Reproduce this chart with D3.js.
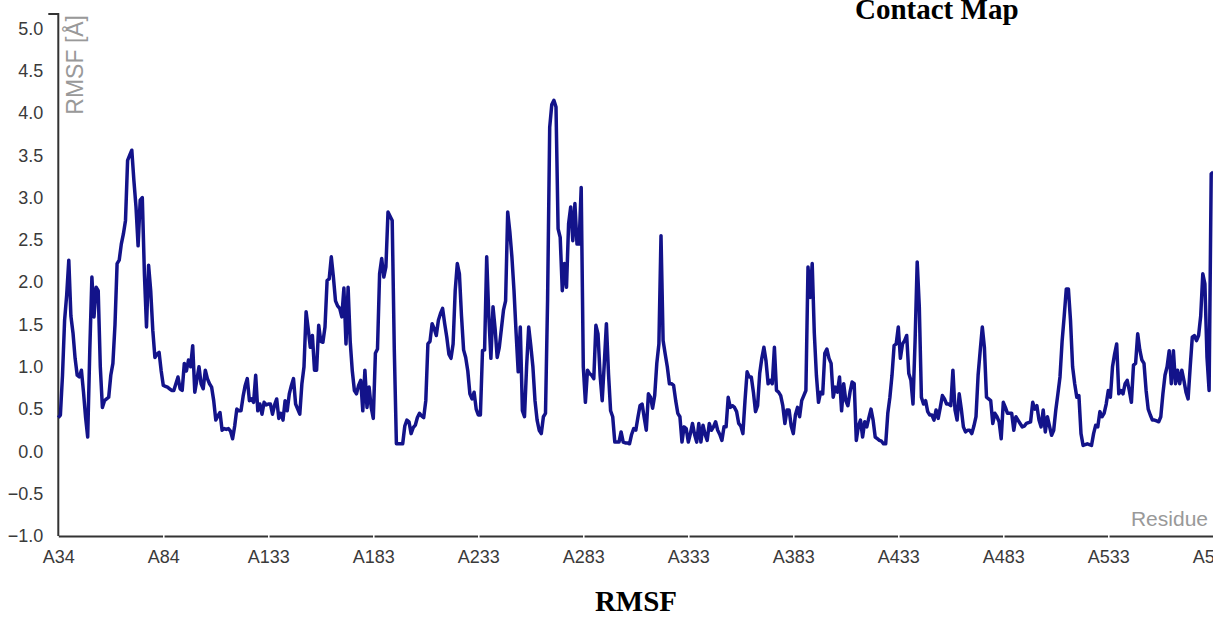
<!DOCTYPE html>
<html>
<head>
<meta charset="utf-8">
<script src="https://cdn.jsdelivr.net/npm/d3@7"></script>
<style>
  body { margin: 0; background: #fff; overflow: hidden; }
  svg { display: block; }
</style>
</head>
<body>
<div id="rmsf_chart"></div>
<script>
// RMSF per residue, one value per residue index (Å)
var rmsfValues = [
  0.40,0.43,0.90,1.55,1.85,2.26,1.60,1.40,1.10,0.90,
  0.88,0.96,0.70,0.40,0.17,1.20,2.06,1.59,1.94,1.90,
  1.00,0.52,0.60,0.62,0.64,0.90,1.04,1.50,2.22,2.26,
  2.45,2.57,2.73,3.44,3.50,3.56,3.20,2.89,2.43,2.97,
  3.00,2.10,1.47,2.20,1.90,1.43,1.11,1.15,1.17,0.95,
  0.78,0.77,0.76,0.74,0.72,0.72,0.80,0.88,0.74,0.72,
  1.04,0.95,1.08,1.00,1.25,0.70,0.85,1.00,0.80,0.74,
  0.96,0.86,0.80,0.76,0.60,0.37,0.42,0.46,0.25,0.27,
  0.26,0.27,0.24,0.15,0.30,0.50,0.48,0.48,0.65,0.78,
  0.86,0.60,0.62,0.58,0.90,0.48,0.56,0.44,0.58,0.55,
  0.56,0.56,0.44,0.55,0.62,0.39,0.45,0.37,0.60,0.48,
  0.68,0.78,0.86,0.56,0.50,0.44,0.80,1.00,1.65,1.45,
  1.23,1.37,0.96,0.96,1.49,1.30,1.29,1.47,2.02,2.04,
  2.30,2.06,1.78,1.72,1.69,1.59,1.93,1.27,1.94,1.30,
  0.95,0.72,0.68,0.78,0.84,0.48,0.96,0.52,0.76,0.52,
  0.39,1.16,1.21,2.10,2.28,2.06,2.18,2.83,2.78,2.73,
  1.20,0.09,0.09,0.09,0.09,0.30,0.37,0.35,0.21,0.28,
  0.31,0.40,0.45,0.42,0.40,0.60,1.27,1.30,1.51,1.45,
  1.37,1.55,1.63,1.69,1.51,1.35,1.15,1.10,1.27,1.90,
  2.22,2.10,1.60,1.20,1.11,0.95,0.68,0.62,0.70,0.50,
  0.43,0.43,1.19,1.20,2.30,1.60,1.10,1.71,1.45,1.11,
  1.23,1.45,1.67,1.78,2.83,2.60,2.30,1.90,1.40,0.94,
  1.47,0.48,0.41,1.00,1.47,1.25,1.00,0.60,0.37,0.25,
  0.21,0.41,0.45,1.80,3.83,4.10,4.15,4.07,2.63,2.53,
  1.90,2.22,1.94,2.69,2.89,2.49,2.93,2.45,2.45,3.12,
  1.00,0.58,0.96,0.92,0.90,0.86,1.49,1.39,0.90,0.60,
  1.04,1.51,0.92,0.48,0.41,0.11,0.11,0.11,0.23,0.11,
  0.10,0.10,0.09,0.20,0.27,0.25,0.40,0.54,0.56,0.40,
  0.25,0.68,0.64,0.51,0.66,1.04,1.27,2.55,1.31,1.15,
  1.00,0.80,0.80,0.78,0.60,0.45,0.41,0.11,0.29,0.27,
  0.11,0.21,0.33,0.20,0.11,0.33,0.11,0.31,0.20,0.13,
  0.33,0.25,0.29,0.35,0.25,0.20,0.13,0.29,0.29,0.64,
  0.52,0.54,0.52,0.47,0.33,0.30,0.21,0.60,0.94,0.88,
  0.88,0.70,0.47,0.54,0.92,1.10,1.23,1.07,0.80,0.84,
  0.80,1.23,0.72,0.70,0.66,0.54,0.33,0.49,0.49,0.30,
  0.21,0.43,0.52,0.41,0.60,0.66,0.72,2.18,1.82,2.22,
  1.40,0.90,0.58,0.70,0.68,1.16,1.21,1.10,1.04,0.64,
  0.76,0.70,0.88,0.48,0.80,0.60,0.54,0.70,0.82,0.80,
  0.13,0.30,0.37,0.17,0.35,0.29,0.40,0.50,0.37,0.17,
  0.15,0.13,0.12,0.09,0.09,0.45,0.64,0.90,1.25,1.27,
  1.47,1.10,1.27,1.31,1.37,0.92,0.84,0.56,1.31,2.24,
  1.71,0.64,0.56,0.60,0.47,0.43,0.43,0.37,0.49,0.39,
  0.52,0.66,0.62,0.56,0.56,0.54,0.96,0.49,0.37,0.68,
  0.50,0.29,0.23,0.25,0.25,0.21,0.30,0.41,0.90,1.19,
  1.47,1.23,0.64,0.62,0.60,0.33,0.45,0.41,0.35,0.15,
  0.58,0.52,0.45,0.45,0.45,0.25,0.41,0.37,0.33,0.29,
  0.30,0.33,0.34,0.35,0.58,0.50,0.54,0.37,0.29,0.49,
  0.23,0.41,0.30,0.19,0.25,0.49,0.68,0.88,1.30,1.60,
  1.92,1.92,1.55,1.00,0.80,0.64,0.66,0.21,0.07,0.08,
  0.09,0.08,0.07,0.21,0.31,0.29,0.47,0.41,0.45,0.56,
  0.72,0.64,1.00,1.15,1.27,0.68,0.72,0.68,0.80,0.84,
  0.72,0.58,1.02,1.04,1.39,1.20,1.08,1.04,0.72,0.50,
  0.43,0.37,0.37,0.36,0.35,0.41,0.68,0.90,1.00,1.19,
  0.80,1.19,0.80,0.96,0.80,0.96,0.84,0.70,0.62,1.00,
  1.35,1.37,1.31,1.37,1.60,2.10,1.98,1.11,0.72,3.28,
  3.30
];

// Residue labels shown on the x axis (every 50th index)
var tickLabels = ['A34', 'A84', 'A133', 'A183', 'A233', 'A283',
                  'A333', 'A383', 'A433', 'A483', 'A533', 'A583'];
var tickStep = 50;

// Y axis ticks
var yTicks = [-1.0, -0.5, 0.0, 0.5, 1.0, 1.5, 2.0, 2.5, 3.0, 3.5, 4.0, 4.5, 5.0];
var yMin = -1.0, yMax = 5.17;

var topTitle = 'Contact Map';
var bottomTitle = 'RMSF';
var yLabel = 'RMSF [\u00c5]';
var xLabel = 'Residue';

// Canvas
var outerWidth = 1213, outerHeight = 617;
var axisLeft = 58.3, axisRight = 1213.3, axisTop = 14, axisBottom = 536;

var svg = d3.select('#rmsf_chart').append('svg')
  .attr('width', outerWidth)
  .attr('height', outerHeight);

var x = d3.scaleLinear().domain([0, rmsfValues.length - 1]).range([axisLeft, axisRight]);
var y = d3.scaleLinear().domain([yMin, yMax]).range([axisBottom, axisTop]);

// Page headings (the page is cropped, so the top one sits at the edge)
svg.append('text')
  .attr('x', 855)
  .attr('y', 19)
  .style('font', 'bold 29px "Liberation Serif", "Times New Roman", serif')
  .style('fill', '#000')
  .text(topTitle);

svg.append('text')
  .attr('x', 636)
  .attr('y', 611)
  .attr('text-anchor', 'middle')
  .style('font', 'bold 29px "Liberation Serif", "Times New Roman", serif')
  .style('fill', '#000')
  .text(bottomTitle);

// Y axis
var gy = svg.append('g')
  .attr('transform', 'translate(' + axisLeft + ',0)')
  .call(d3.axisLeft(y)
    .tickValues(yTicks)
    .tickSize(0)
    .tickPadding(15)
    .tickFormat(d3.format('.1f')));
gy.select('.domain')
  .attr('d', 'M-10,' + axisTop + 'H0V' + axisBottom)
  .attr('stroke', '#333')
  .attr('stroke-width', 2);
gy.selectAll('text')
  .style('font', '18px "Liberation Sans", Arial, sans-serif')
  .style('fill', '#3a3a3a');

// X axis
var tickIdx = tickLabels.map(function(d, i) { return i * tickStep; });
var gx = svg.append('g')
  .attr('transform', 'translate(0,' + axisBottom + ')')
  .call(d3.axisBottom(x)
    .tickValues(tickIdx)
    .tickSizeOuter(0)
    .tickSizeInner(0)
    .tickPadding(14)
    .tickFormat(function(d, i) { return tickLabels[i]; }));
gx.select('.domain')
  .attr('stroke', '#333')
  .attr('stroke-width', 2);
gx.selectAll('.tick').filter(function(d) { return d > 0; })
  .append('line')
  .attr('y1', -3).attr('y2', 3)
  .attr('stroke', '#fff')
  .attr('stroke-width', 1.5);
gx.selectAll('text')
  .style('font', '18px "Liberation Sans", Arial, sans-serif')
  .style('fill', '#3a3a3a');

// Axis titles
svg.append('text')
  .attr('transform', 'translate(83,15) rotate(-90)')
  .attr('text-anchor', 'end')
  .style('font', '23px "Liberation Sans", Arial, sans-serif')
  .style('fill', '#999')
  .text(yLabel);

svg.append('text')
  .attr('x', 1208)
  .attr('y', 526)
  .attr('text-anchor', 'end')
  .style('font', '21px "Liberation Sans", Arial, sans-serif')
  .style('fill', '#999')
  .text(xLabel);

// RMSF line
var line = d3.line()
  .x(function(d, i) { return x(i); })
  .y(function(d) { return y(d); });

svg.append('path')
  .datum(rmsfValues)
  .attr('d', line)
  .attr('fill', 'none')
  .attr('stroke', '#13138a')
  .attr('stroke-width', 3.5)
  .attr('stroke-linejoin', 'round');
</script>
</body>
</html>
